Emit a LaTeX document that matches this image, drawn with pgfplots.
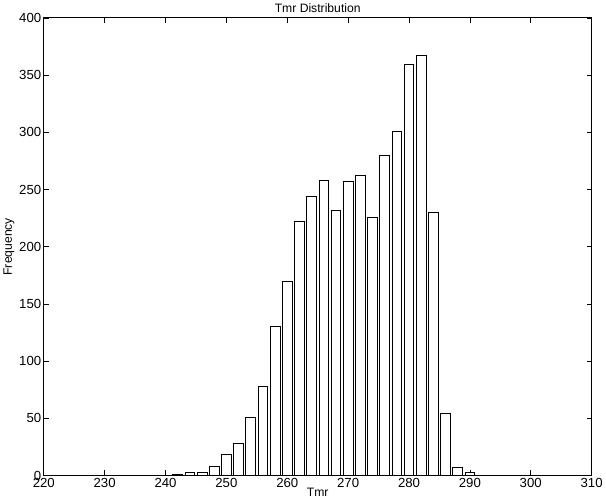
\documentclass[border=0pt]{standalone}
\usepackage{fontspec}
\setmainfont{Liberation Sans}
\usepackage{pgfplots}
\pgfplotsset{compat=1.18}

\begin{document}
\begin{tikzpicture}
\begin{axis}[
  scale only axis,
  width=540pt,
  height=451pt,
  xmin=220, xmax=310,
  ymin=0, ymax=400,
  xtick={220,230,...,310},
  ytick={0,50,...,400},
  tick align=inside,
  major tick length=5pt,
  tick style={black, line width=0.6pt},
  axis line style={black, line width=0.9pt},
  /pgf/number format/assume math mode=true,
  tick label style={font=\fontsize{13}{15}\selectfont},
  xticklabel style={yshift=1pt},
  yticklabel style={xshift=1pt},
  title={Tmr Distribution},
  title style={font=\fontsize{12}{14}\selectfont, yshift=-4pt},
  xlabel={Tmr},
  ylabel={Frequency},
  label style={font=\fontsize{12}{14}\selectfont},
  xlabel style={yshift=6pt},
  ylabel style={yshift=-2pt},
]
\addplot[ybar, bar width=1.6, bar shift=0pt, fill=white, draw=black, line width=0.8pt] coordinates {
  (242,1) (244,3) (246,3) (248,8) (250,18) (252,28) (254,51) (256,78)
  (258,130) (260,170) (262,222) (264,244) (266,258) (268,232) (270,257)
  (272,262) (274,226) (276,280) (278,301) (280,359) (282,367) (284,230)
  (286,54) (288,7) (290,3)
};
\end{axis}
\end{tikzpicture}
\end{document}
